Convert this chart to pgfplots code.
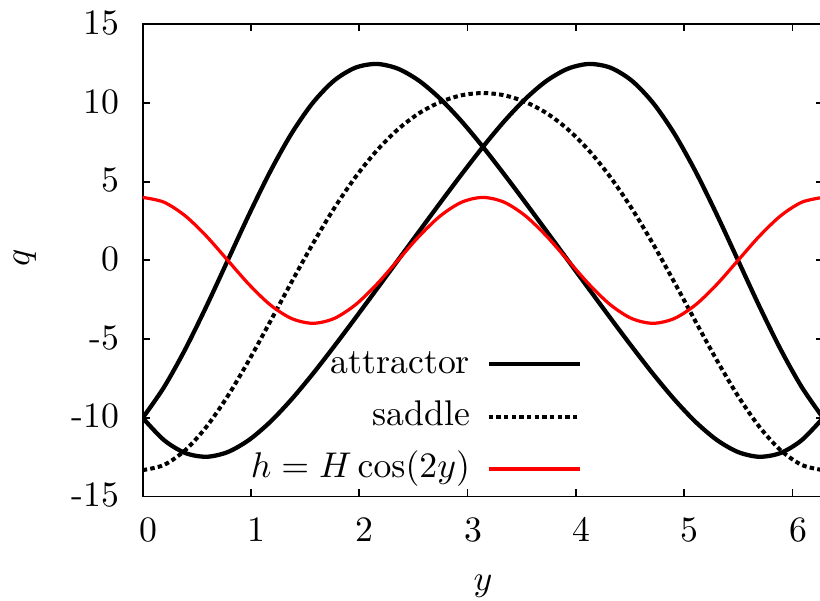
\documentclass[border=0pt]{standalone}
\usepackage{pgfplots}
\usepackage{pgfplotstable}
\pgfplotsset{compat=1.18}
\pgfplotstableread{
y a1 a2 s h
0.00000 -10.01 -10.01 -13.33 4.000
0.19635 -8.06 -11.42 -13.00 3.696
0.39270 -5.65 -12.24 -12.06 2.828
0.58905 -2.91 -12.48 -10.57 1.531
0.78540 0.00 -12.18 -8.62 0.000
0.98175 2.91 -11.41 -6.34 -1.531
1.17810 5.65 -10.26 -3.88 -2.828
1.37445 8.06 -8.83 -1.38 -3.696
1.57080 10.01 -7.21 1.05 -4.000
1.76715 11.42 -5.47 3.30 -3.696
1.96350 12.24 -3.67 5.28 -2.828
2.15984 12.48 -1.84 6.96 -1.531
2.35619 12.18 0.00 8.32 0.000
2.55254 11.41 1.84 9.35 1.531
2.74889 10.26 3.67 10.06 2.828
2.94524 8.83 5.47 10.49 3.696
3.14159 7.21 7.21 10.63 4.000
3.33794 5.47 8.83 10.49 3.696
3.53429 3.67 10.26 10.06 2.828
3.73064 1.84 11.41 9.35 1.531
3.92699 0.00 12.18 8.32 0.000
4.12334 -1.84 12.48 6.96 -1.531
4.31969 -3.67 12.24 5.28 -2.828
4.51604 -5.47 11.42 3.30 -3.696
4.71239 -7.21 10.01 1.05 -4.000
4.90874 -8.83 8.06 -1.38 -3.696
5.10509 -10.26 5.65 -3.88 -2.828
5.30144 -11.41 2.91 -6.34 -1.531
5.49779 -12.18 0.00 -8.62 0.000
5.69414 -12.48 -2.91 -10.57 1.531
5.89049 -12.24 -5.65 -12.06 2.828
6.08684 -11.42 -8.06 -13.00 3.696
6.28319 -10.01 -10.01 -13.33 4.000
}\datatable
\begin{document}
\begin{tikzpicture}
\begin{axis}[
  scale only axis,
  width=190.5pt, height=132.2pt,
  xmin=0, xmax=6.28319, ymin=-15, ymax=15,
  xtick={0,1,2,3,4,5,6},
  ytick={-15,-10,-5,0,5,10,15},
  yticklabels={-15,-10,-5,0,5,10,15},
  xticklabels={0,1,2,3,4,5,6},
  tick align=inside,
  major tick length=2pt,
  axis line style={line width=0.5pt},
  every tick/.style={black, line width=0.5pt},
  xticklabel style={yshift=-2.33pt, xshift=1.57pt},
  yticklabel style={xshift=-3.03pt, yshift=0.4pt},
  xlabel={$y$}, ylabel={$q$},
  xlabel style={at={(axis description cs:0.5,-0.19)}, anchor=center},
  ylabel style={at={(axis description cs:-0.173,0.506)}, anchor=center},
  legend plot pos=right,
  legend cell align=right,
  legend image code/.code={\draw[#1] (0pt,0pt) -- (25.5pt,0pt);},
  legend style={draw=none, fill=none, at={(rel axis cs:0.6453,0.169)}, anchor=east,
    inner sep=0pt, outer sep=0pt, row sep=4.65pt, column sep=4.6pt,
    nodes={inner sep=0pt, text height=7.5pt, text depth=2.5pt}},
]
\addplot[black, line width=1.2pt, smooth] table[x=y, y=a1] {\datatable};
\addlegendentry{attractor}
\addplot[black, line width=1.2pt, smooth, forget plot] table[x=y, y=a2] {\datatable};
\addplot[black, line width=1.12pt, dash pattern=on 1.25pt off 0.9pt, smooth] table[x=y, y=s] {\datatable};
\addlegendentry{saddle}
\addplot[red, line width=0.9pt, smooth] table[x=y, y=h] {\datatable};
\addlegendentry{$h = H\cos(2y)$}
\end{axis}
\pgfresetboundingbox
\path[use as bounding box] (-39.96pt,-29.26pt) rectangle (189.64pt,139.0pt);
\end{tikzpicture}
\end{document}
